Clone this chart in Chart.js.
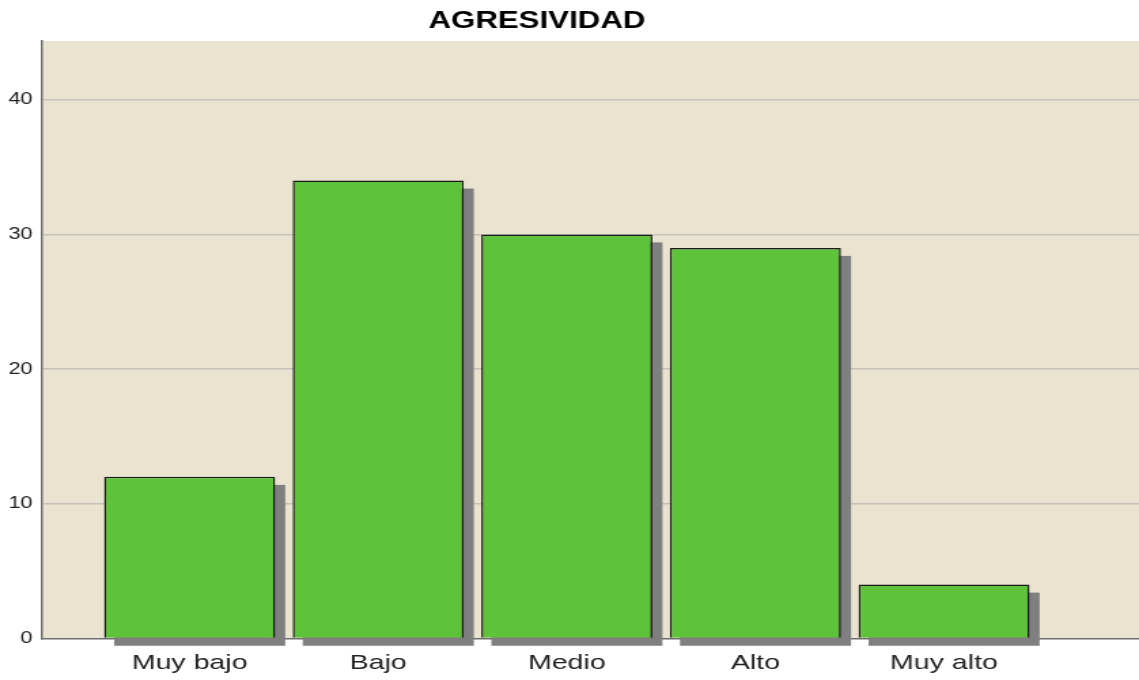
<!DOCTYPE html>
<html>
<head>
<meta charset="utf-8">
<script src="https://cdn.jsdelivr.net/npm/chart.js@4/dist/chart.umd.min.js"></script>
<style>
  body { margin: 0; background: #fff; overflow: hidden; }
  /* the reference is horizontally stretched, so draw narrow and stretch */
  #wrap { width: 838px; height: 680px; transform: scaleX(1.3592); transform-origin: 0 0; }
</style>
</head>
<body>
<div id="wrap"><canvas id="chart" width="838" height="680"></canvas></div>
<script>
const categories = ["Muy bajo", "Bajo", "Medio", "Alto", "Muy alto"];
const counts = [12, 34, 30, 29, 4];
const yTicks = [0, 10, 20, 30, 40];

// plot background colour behind the bars
const plotBackground = {
  id: "plotBackground",
  beforeDraw(chart) {
    const { ctx, chartArea } = chart;
    ctx.save();
    ctx.fillStyle = "#EAE3CF";
    ctx.fillRect(chartArea.left, chartArea.top, chartArea.right - chartArea.left, chartArea.bottom - chartArea.top);
    ctx.restore();
  },
};

// grey drop shadow taken from each bar element
const barShadow = {
  id: "barShadow",
  beforeDatasetsDraw(chart) {
    const ctx = chart.ctx;
    ctx.save();
    ctx.fillStyle = "#7F7F7F";
    chart.getDatasetMeta(0).data.forEach((bar) => {
      const p = bar.getProps(["x", "y", "base", "width"], true);
      ctx.fillRect(p.x - p.width / 2 + 7.4, p.y + 8, p.width, p.base - p.y);
    });
    ctx.restore();
  },
};

// title sits left of the canvas centre in the reference
const titleShift = {
  id: "titleShift",
  afterLayout(chart) {
    if (chart.titleBlock) {
      chart.titleBlock.left -= 24;
      chart.titleBlock.right -= 24;
    }
  },
};

new Chart(document.getElementById("chart"), {
  type: "bar",
  data: {
    datasets: [
      {
        label: "Agresividad",
        data: categories.map((c, i) => ({ x: i, y: counts[i] })),
        backgroundColor: "#5EC23A",
        borderColor: "#1A1A1A",
        borderWidth: 1.5,
        categoryPercentage: 1,
        barPercentage: 0.907,
      },
    ],
  },
  plugins: [plotBackground, barShadow, titleShift],
  options: {
    responsive: false,
    animation: false,
    devicePixelRatio: 1,
    layout: { padding: 0 },
    plugins: {
      legend: { display: false },
      tooltip: { enabled: false },
      title: {
        display: true,
        text: "AGRESIVIDAD",
        color: "#000",
        font: { family: "'Liberation Sans', Arial, sans-serif", size: 23, weight: "bold" },
        padding: { top: 7.5, bottom: 5.9 },
      },
    },
    scales: {
      x: {
        type: "linear",
        offset: false,
        min: -0.782,
        max: 5.034,
        afterBuildTicks(scale) {
          scale.ticks = categories.map((c, i) => ({ value: i }));
        },
        afterFit(scale) {
          scale.height = 41.5;
        },
        grid: { display: false, drawTicks: false },
        border: { display: true, color: "#6E6E6E", width: 1.5 },
        ticks: {
          autoSkip: false,
          maxRotation: 0,
          padding: 12,
          color: "#222",
          font: { family: "'Liberation Sans', Arial, sans-serif", size: 21 },
          callback: (value) => categories[value],
        },
      },
      y: {
        min: 0,
        max: 44.36,
        afterBuildTicks(scale) {
          scale.ticks = yTicks.map((v) => ({ value: v }));
        },
        afterFit(scale) {
          scale.width = 31;
        },
        grid: {
          drawTicks: false,
          lineWidth: 1.5,
          color: (c) => (c.tick && c.tick.value === 0 ? "rgba(0,0,0,0)" : "#C6C2BA"),
        },
        border: { display: true, color: "#6E6E6E", width: 1.5 },
        ticks: {
          padding: 7,
          color: "#222",
          font: { family: "'Liberation Sans', Arial, sans-serif", size: 16 },
        },
      },
    },
  },
});
</script>
</body>
</html>
